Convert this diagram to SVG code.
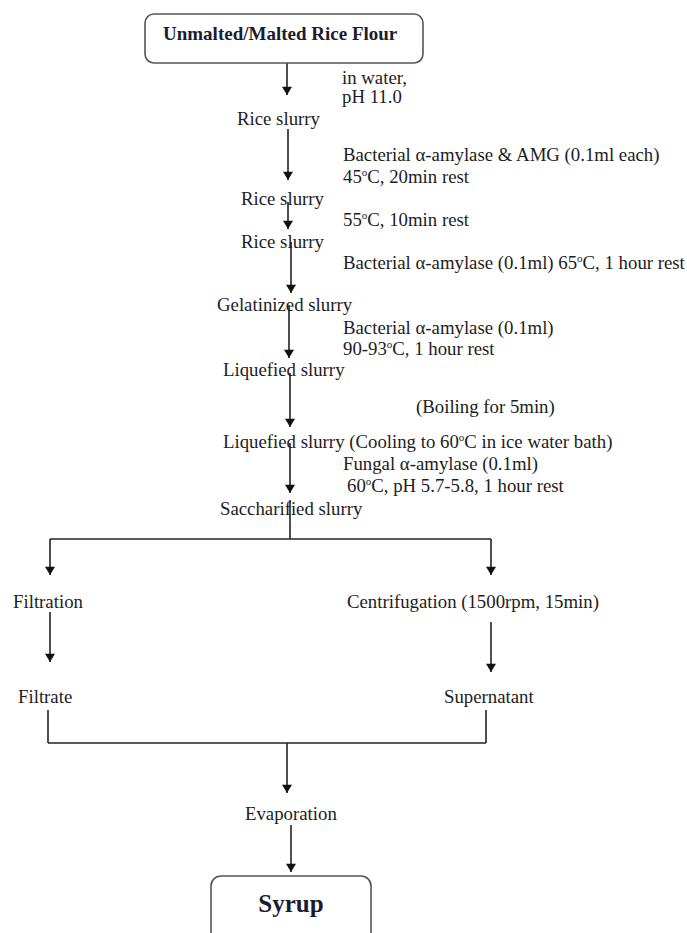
<svg xmlns="http://www.w3.org/2000/svg" width="687" height="933" viewBox="0 0 687 933">
<defs>
<marker id="ah" viewBox="0 0 10 12" refX="10" refY="6" markerWidth="11" markerHeight="10" markerUnits="userSpaceOnUse" orient="auto">
<path d="M0,0 L10,6 L0,12 z" fill="#111"/>
</marker>
<style>
.t{font-family:"Liberation Serif","Times New Roman",serif;font-size:18.8px;fill:#1c1c24}
.b{font-family:"Liberation Serif","Times New Roman",serif;font-weight:bold;fill:#1c1c30}
.ln{stroke:#222;stroke-width:1.6;fill:none}
.ar{stroke:#222;stroke-width:1.6;fill:none;marker-end:url(#ah)}
.box{fill:#fff;stroke:#555;stroke-width:1.6}
</style>
</defs>
<rect width="687" height="933" fill="#fff"/>
<g id="connectors">
<line class="ar" x1="287" y1="63" x2="287" y2="95"/>
<line class="ar" x1="288" y1="129" x2="288" y2="180"/>
<line class="ar" x1="288" y1="202" x2="288" y2="229"/>
<line class="ar" x1="291" y1="242" x2="291" y2="293"/>
<line class="ar" x1="289" y1="305" x2="289" y2="358"/>
<line class="ar" x1="290" y1="373" x2="290" y2="427"/>
<line class="ar" x1="290" y1="443" x2="290" y2="493"/>
<polyline class="ln" points="290,500 290,539"/>
<line class="ln" x1="50" y1="539" x2="491" y2="539"/>
<line class="ar" x1="50" y1="539" x2="50" y2="575"/>
<line class="ar" x1="491" y1="539" x2="491" y2="575"/>
<line class="ar" x1="50" y1="612" x2="50" y2="662"/>
<line class="ar" x1="491" y1="622" x2="491" y2="672"/>
<line class="ln" x1="48" y1="710" x2="48" y2="743"/>
<line class="ln" x1="486" y1="710" x2="486" y2="743"/>
<line class="ln" x1="48" y1="743" x2="486" y2="743"/>
<line class="ar" x1="287" y1="743" x2="287" y2="793"/>
<line class="ar" x1="291" y1="825" x2="291" y2="872"/>
</g>
<g id="n-flour">
<rect class="box" x="145" y="14" width="278" height="49" rx="9"/>
<text class="b" x="163" y="40" font-size="19">Unmalted/Malted Rice Flour</text>
</g>
<g id="c-water">
<text class="t" x="342" y="84">in water,</text>
<text class="t" x="342" y="103">pH 11.0</text>
</g>
<g id="n-slurry1"><text class="t" x="237" y="125">Rice slurry</text></g>
<g id="c-amg">
<text class="t" x="343" y="161">Bacterial α-amylase &amp; AMG (0.1ml each)</text>
<text class="t" x="343" y="183">45<tspan font-size="11" dy="-7">o</tspan><tspan dy="7">C, 20min rest</tspan></text>
</g>
<g id="n-slurry2"><text class="t" x="241" y="205">Rice slurry</text></g>
<g id="c-55"><text class="t" x="343" y="226">55<tspan font-size="11" dy="-7">o</tspan><tspan dy="7">C, 10min rest</tspan></text></g>
<g id="n-slurry3"><text class="t" x="241" y="248">Rice slurry</text></g>
<g id="c-65"><text class="t" x="343" y="269">Bacterial α-amylase (0.1ml) 65<tspan font-size="11" dy="-7">o</tspan><tspan dy="7">C, 1 hour rest</tspan></text></g>
<g id="n-gel"><text class="t" x="217" y="311">Gelatinized slurry</text></g>
<g id="c-90">
<text class="t" x="343" y="334">Bacterial α-amylase (0.1ml)</text>
<text class="t" x="343" y="355">90-93<tspan font-size="11" dy="-7">o</tspan><tspan dy="7">C, 1 hour rest</tspan></text>
</g>
<g id="n-liq1"><text class="t" x="223" y="376">Liquefied slurry</text></g>
<g id="c-boil"><text class="t" x="416" y="413">(Boiling for 5min)</text></g>
<g id="n-liq2"><text class="t" x="223" y="448">Liquefied slurry (Cooling to 60<tspan font-size="11" dy="-7">o</tspan><tspan dy="7">C in ice water bath)</tspan></text></g>
<g id="c-fungal">
<text class="t" x="343" y="470">Fungal α-amylase (0.1ml)</text>
<text class="t" x="347" y="492">60<tspan font-size="11" dy="-7">o</tspan><tspan dy="7">C, pH 5.7-5.8, 1 hour rest</tspan></text>
</g>
<g id="n-sacch"><text class="t" x="220" y="515">Saccharified slurry</text></g>
<g id="n-filtration"><text class="t" x="13" y="608">Filtration</text></g>
<g id="n-centri"><text class="t" x="347" y="608">Centrifugation (1500rpm, 15min)</text></g>
<g id="n-filtrate"><text class="t" x="18" y="703">Filtrate</text></g>
<g id="n-super"><text class="t" x="444" y="703">Supernatant</text></g>
<g id="n-evap"><text class="t" x="245" y="820">Evaporation</text></g>
<g id="n-syrup">
<rect class="box" x="211" y="876" width="160" height="70" rx="10"/>
<text class="b" x="291" y="912" font-size="25" text-anchor="middle">Syrup</text>
</g>
</svg>
